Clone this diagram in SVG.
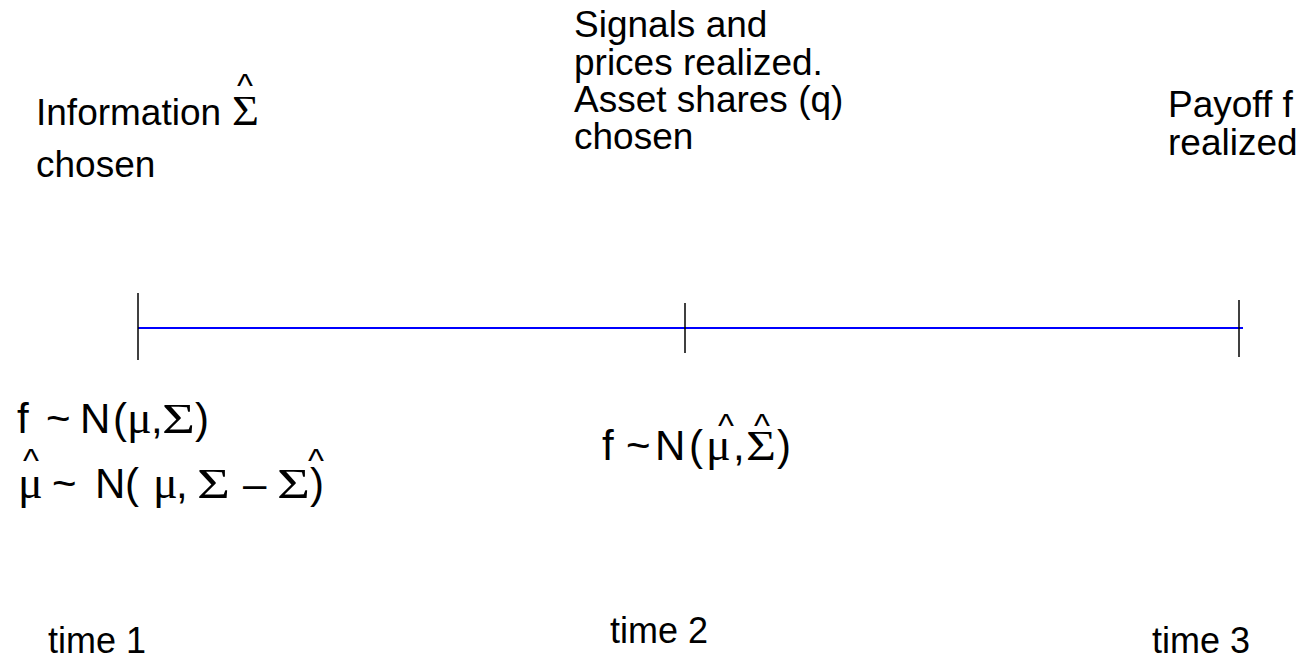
<svg xmlns="http://www.w3.org/2000/svg" width="1306" height="660" viewBox="0 0 1306 660">
<style>
.t{font-family:"Liberation Sans",Arial,sans-serif;font-size:37px;fill:#000}
.tm{font-family:"Liberation Sans",Arial,sans-serif;font-size:36px;fill:#000}
.f{font-family:"Liberation Sans",Arial,sans-serif;font-size:42px;fill:#000}
.mu{font-family:"Liberation Serif","Times New Roman",serif;font-size:46px;fill:#000}
.sg{font-family:"Liberation Serif","Times New Roman",serif;font-size:42px;fill:#000}
.hat{font-family:"Liberation Sans",Arial,sans-serif;font-size:34px;fill:#000}
.tick{stroke:#000;stroke-width:1.5}
.axis{stroke:#0000ff;stroke-width:2}
</style>
<rect width="1306" height="660" fill="#fff"/>
<g id="connectors">
<line class="axis" x1="138" y1="328" x2="1243" y2="328"/>
<line class="tick" x1="138" y1="293" x2="138" y2="360"/>
<line class="tick" x1="685" y1="303" x2="685" y2="353"/>
<line class="tick" x1="1239" y1="300" x2="1239" y2="357"/>
</g>
<g id="event1">
<text class="t" x="36" y="125">Information</text>
<text class="sg" x="232" y="125" textLength="27" lengthAdjust="spacingAndGlyphs">Σ</text>
<text class="hat" x="237" y="97">^</text>
<text class="t" x="36" y="177">chosen</text>
</g>
<g id="event2">
<text class="t" x="574" y="37">Signals and</text>
<text class="t" x="574" y="75">prices realized.</text>
<text class="t" x="574" y="112">Asset shares (q)</text>
<text class="t" x="574" y="149">chosen</text>
</g>
<g id="event3">
<text class="t" x="1168" y="117">Payoff f</text>
<text class="t" x="1168" y="155">realized</text>
</g>
<g id="dist1">
<text class="f" y="433"><tspan x="17">f</tspan><tspan x="46">~</tspan><tspan x="80">N</tspan><tspan x="113">(</tspan></text>
<text class="mu" x="127" y="433">μ</text>
<text class="f" x="151" y="433">,</text>
<text class="sg" x="162" y="433" textLength="33" lengthAdjust="spacingAndGlyphs">Σ</text>
<text class="f" x="195" y="433">)</text>
<text class="mu" x="18" y="498">μ</text>
<text class="f" y="498"><tspan x="52">~</tspan><tspan x="95">N</tspan><tspan x="125">(</tspan></text>
<text class="mu" x="153" y="498">μ</text>
<text class="f" x="176" y="498">,</text>
<text class="sg" x="197" y="498" textLength="33" lengthAdjust="spacingAndGlyphs">Σ</text>
<text class="f" x="243" y="498">–</text>
<text class="sg" x="277" y="498" textLength="33" lengthAdjust="spacingAndGlyphs">Σ</text>
<text class="f" x="310" y="498">)</text>
<text class="hat" x="23" y="472">^</text>
<text class="hat" x="308" y="472">^</text>
</g>
<g id="dist2">
<text class="f" y="460"><tspan x="602">f</tspan><tspan x="626">~</tspan><tspan x="655">N</tspan><tspan x="689">(</tspan></text>
<text class="mu" x="706" y="460">μ</text>
<text class="f" x="733" y="460">,</text>
<text class="sg" x="746" y="460" textLength="30" lengthAdjust="spacingAndGlyphs">Σ</text>
<text class="f" x="777" y="460">)</text>
<text class="hat" x="718" y="437">^</text>
<text class="hat" x="754" y="437">^</text>
</g>
<g id="times">
<text class="tm" x="48" y="653">time 1</text>
<text class="tm" x="610" y="643">time 2</text>
<text class="tm" x="1152" y="653">time 3</text>
</g>
</svg>
